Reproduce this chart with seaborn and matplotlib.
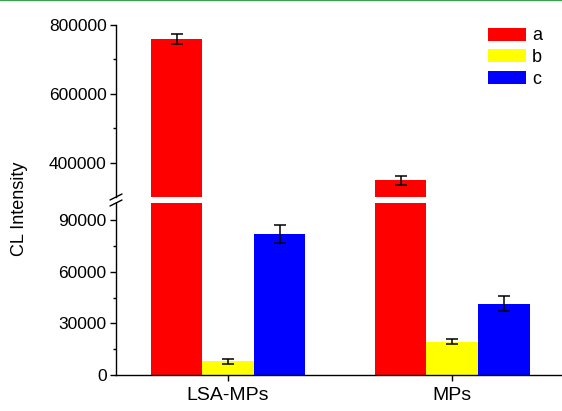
import pandas as pd
import matplotlib
matplotlib.use("Agg")
import matplotlib.pyplot as plt
from matplotlib.lines import Line2D
from matplotlib.ticker import FixedLocator, StrMethodFormatter
import seaborn as sns

# Samples, series and measured CL intensities (mean and error)
samples = ["LSA-MPs", "MPs"]
series = ["a", "b", "c"]
a_values = [760000, 348000]
b_values = [8000, 19300]
c_values = [82000, 41500]
a_errors = [14000, 14000]
b_errors = [1500, 1500]
c_errors = [5000, 4500]
colors = ["#ff0000", "#ffff00", "#0000ff"]

# y ranges of the two parts of the broken axis
upper_range = (300000, 800000)
lower_range = (0, 100000)
upper_major = [400000, 600000, 800000]
upper_minor = [500000, 700000]
lower_major = [0, 30000, 60000, 90000]
lower_minor = [15000, 45000, 75000]

sns.set_style("ticks")
plt.rcParams["font.family"] = ["Liberation Sans", "DejaVu Sans"]
plt.rcParams.update({
    "text.color": "black",
    "axes.labelcolor": "black",
    "xtick.color": "black",
    "ytick.color": "black",
})

df = pd.DataFrame({
    "sample": samples * len(series),
    "series": [s for s in series for _ in samples],
    "value": a_values + b_values + c_values,
})
values = {"a": a_values, "b": b_values, "c": c_values}
errors = {"a": a_errors, "b": b_errors, "c": c_errors}

W, H = 562, 411
fig = plt.figure(figsize=(W / 100, H / 100), dpi=100)


def px_rect(left, top, right, bottom):
    return [left / W, 1 - bottom / H, (right - left) / W, (bottom - top) / H]


ax_top = fig.add_axes(px_rect(116, 25, 562, 197))
ax_bot = fig.add_axes(px_rect(116, 203, 562, 375))

for ax in (ax_top, ax_bot):
    sns.barplot(data=df, x="sample", y="value", hue="series",
                order=samples, hue_order=series, palette=colors,
                width=0.69, saturation=1, errorbar=None, linewidth=0,
                legend=(ax is ax_top), ax=ax)
    for name, cont in zip(series, ax.containers):
        xs = [p.get_x() + p.get_width() / 2 for p in cont]
        ax.errorbar(xs, values[name], yerr=errors[name], fmt="none",
                    ecolor="black", elinewidth=1.1, capsize=4.3,
                    capthick=1.1, zorder=3)
    ax.set_xlim(-0.5, 1.49)
    ax.set_xlabel("")
    ax.set_ylabel("")
    ax.yaxis.set_major_formatter(StrMethodFormatter("{x:.0f}"))
    ax.tick_params(axis="y", which="major", length=4.3, width=1,
                   labelsize=12.5, pad=2.4, color="black",
                   labelcolor="black")
    ax.tick_params(axis="y", which="minor", length=2.4, width=1,
                   color="black", left=True)
    for side in ("left", "bottom"):
        ax.spines[side].set_linewidth(1)
        ax.spines[side].set_color("black")
    for side in ("right", "top"):
        ax.spines[side].set_visible(False)

ax_top.set_ylim(*upper_range)
ax_top.yaxis.set_major_locator(FixedLocator(upper_major))
ax_top.yaxis.set_minor_locator(FixedLocator(upper_minor))
ax_top.spines["bottom"].set_visible(False)
ax_top.tick_params(axis="x", bottom=False, labelbottom=False)

ax_bot.set_ylim(*lower_range)
ax_bot.yaxis.set_major_locator(FixedLocator(lower_major))
ax_bot.yaxis.set_minor_locator(FixedLocator(lower_minor))
ax_bot.tick_params(axis="x", length=4.3, width=1, labelsize=14, pad=4,
                   color="black", labelcolor="black")

# break marks on the y axis
for y0 in (200, 206):
    fig.add_artist(Line2D([110 / W, 122 / W], [1 - y0 / H, 1 - (y0 - 6) / H],
                          color="black", lw=1))

fig.text(20 / W, 1 - 209 / H, "CL Intensity", rotation=90,
         ha="center", va="center", fontsize=13, color="black")

handles, labels = ax_top.get_legend_handles_labels()
ax_top.legend(handles, labels, loc="upper left",
              bbox_to_anchor=(488 / W, 1 - 27.5 / H),
              bbox_transform=fig.transFigure, frameon=False, fontsize=13,
              handlelength=2.1, handleheight=0.72, handletextpad=0.33,
              labelspacing=0.26, borderpad=0, borderaxespad=0)

# thin green rule along the top edge
fig.add_artist(Line2D([0, 1], [1 - 0.5 / H] * 2, color="#3f9f57", lw=1))

fig.savefig("out.png", dpi=100)
